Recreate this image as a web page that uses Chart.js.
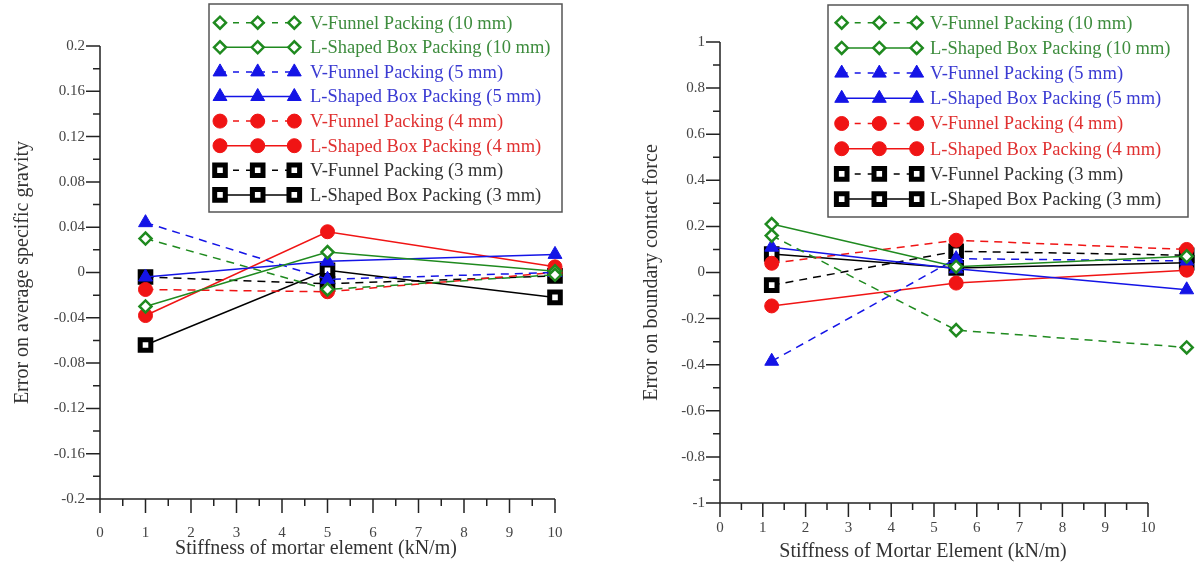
<!DOCTYPE html>
<html>
<head>
<meta charset="utf-8">
<script src="https://cdn.jsdelivr.net/npm/chart.js@4.4.1/dist/chart.umd.min.js"></script>
<style>
    body { margin: 0; background: #fff; width: 1202px; height: 569px; overflow: hidden; position: relative; }
    .panel { position: absolute; top: 0; height: 569px; }
    #left-panel { left: 0; width: 600px; }
    #right-panel { left: 600px; width: 602px; }
</style>
</head>
<body>
<div class="panel" id="left-panel"><canvas id="gravityChart" width="600" height="569"></canvas></div>
<div class="panel" id="right-panel"><canvas id="forceChart" width="602" height="569"></canvas></div>
<script>
// stiffness values used in both tests
const stiffness = [1, 5, 10];

const seriesNames = [
    "V-Funnel Packing (10 mm)",
    "L-Shaped Box Packing (10 mm)",
    "V-Funnel Packing (5 mm)",
    "L-Shaped Box Packing (5 mm)",
    "V-Funnel Packing (4 mm)",
    "L-Shaped Box Packing (4 mm)",
    "V-Funnel Packing (3 mm)",
    "L-Shaped Box Packing (3 mm)"
];

// error on average specific gravity
const gravVF10 = [0.03, -0.015, -0.002];
const gravLS10 = [-0.03, 0.018, 0.001];
const gravVF5 = [0.044, -0.006, 0.0];
const gravLS5 = [-0.004, 0.01, 0.016];
const gravVF4 = [-0.015, -0.017, 0.0];
const gravLS4 = [-0.038, 0.036, 0.005];
const gravVF3 = [-0.004, -0.01, -0.003];
const gravLS3 = [-0.064, 0.002, -0.022];

// error on boundary contact force
const forceVF10 = [0.16, -0.25, -0.325];
const forceLS10 = [0.21, 0.025, 0.07];
const forceVF5 = [-0.385, 0.06, 0.05];
const forceLS5 = [0.11, 0.016, -0.075];
const forceVF4 = [0.04, 0.14, 0.1];
const forceLS4 = [-0.145, -0.046, 0.01];
const forceVF3 = [-0.055, 0.092, 0.075];
const forceLS3 = [0.08, 0.02, 0.042];

const stiffnessTicks = [0, 1, 2, 3, 4, 5, 6, 7, 8, 9, 10];
const gravityTicks = [-0.2, -0.16, -0.12, -0.08, -0.04, 0, 0.04, 0.08, 0.12, 0.16, 0.2];
const forceTicks = [-1, -0.8, -0.6, -0.4, -0.2, 0, 0.2, 0.4, 0.6, 0.8, 1];

// styles, same order as seriesNames
const GREEN = "#1f8a1f", BLUE = "#1414e6", RED = "#f01414", BLACK = "#000000";
const seriesStyles = [
    { color: GREEN, text: "#3d8c3d", dash: [8, 6], point: "rectRot", radius: 6, fill: "#fff", bw: 2.5 },
    { color: GREEN, text: "#3d8c3d", dash: [], point: "rectRot", radius: 6, fill: "#fff", bw: 2.5 },
    { color: BLUE, text: "#3a3ad2", dash: [8, 6], point: "triangle", radius: 8, fill: BLUE, bw: 1 },
    { color: BLUE, text: "#3a3ad2", dash: [], point: "triangle", radius: 8, fill: BLUE, bw: 1 },
    { color: RED, text: "#e03030", dash: [8, 6], point: "circle", radius: 7, fill: RED, bw: 1 },
    { color: RED, text: "#e03030", dash: [], point: "circle", radius: 7, fill: RED, bw: 1 },
    { color: BLACK, text: "#333", dash: [8, 6], point: "rect", radius: 7.5, fill: "#fff", bw: 5 },
    { color: BLACK, text: "#333", dash: [], point: "rect", radius: 7.5, fill: "#fff", bw: 5 }
];

const FONT = "'Liberation Serif', 'Times New Roman', serif";

function buildDatasets(seriesList, xAxisID) {
    return seriesList.map((values, i) => {
        const s = seriesStyles[i];
        return {
            label: seriesNames[i],
            data: stiffness.map((x, j) => ({ x: x, y: values[j] })),
            xAxisID: xAxisID,
            borderColor: s.color,
            borderWidth: 1.5,
            borderDash: s.dash,
            pointStyle: s.point,
            pointRadius: s.radius,
            pointBackgroundColor: s.fill,
            pointBorderColor: s.color,
            pointBorderWidth: s.bw,
            textColor: s.text,
            clip: false,
            tension: 0
        };
    });
}

// axis lines plus major + minor tick marks outside the axes, and the x title
const tickMarks = {
    id: "tickMarks",
    afterDraw(chart, args, o) {
        const ctx = chart.ctx;
        const x = chart.scales.x;
        const y = chart.scales.y;
        const x0 = x.getPixelForValue(x.ticks[0].value);
        const x1 = x.getPixelForValue(x.ticks[x.ticks.length - 1].value);
        const y0 = y.getPixelForValue(y.ticks[0].value);
        const y1 = y.getPixelForValue(y.ticks[y.ticks.length - 1].value);
        ctx.save();
        ctx.strokeStyle = "#222";
        ctx.lineWidth = 1.5;
        ctx.beginPath();
        ctx.moveTo(x0, y1);
        ctx.lineTo(x0, y0 + 4);
        ctx.moveTo(x0 - 4, y0);
        ctx.lineTo(x1, y0);
        x.ticks.forEach((t, i) => {
            const px = x.getPixelForValue(t.value);
            ctx.moveTo(px, y0);
            ctx.lineTo(px, y0 + 14);
            if (i < x.ticks.length - 1) {
                const mx = x.getPixelForValue((t.value + x.ticks[i + 1].value) / 2);
                ctx.moveTo(mx, y0);
                ctx.lineTo(mx, y0 + 7);
            }
        });
        y.ticks.forEach((t, i) => {
            const py = y.getPixelForValue(t.value);
            ctx.moveTo(x0, py);
            ctx.lineTo(x0 - 14, py);
            if (i < y.ticks.length - 1) {
                const my = y.getPixelForValue((t.value + y.ticks[i + 1].value) / 2);
                ctx.moveTo(x0, my);
                ctx.lineTo(x0 - 7, my);
            }
        });
        ctx.stroke();

        ctx.fillStyle = "#333";
        ctx.font = "20px " + FONT;
        ctx.textAlign = "center";
        ctx.textBaseline = "middle";
        ctx.fillText(o.xTitle, o.xTitleX, o.xTitleY);
        ctx.restore();
    }
};

// boxed legend with three markers per row
const boxLegend = {
    id: "boxLegend",
    afterDraw(chart, args, o) {
        const ctx = chart.ctx;
        ctx.save();
        ctx.fillStyle = "#fff";
        ctx.fillRect(o.x, o.y, o.w, o.h);
        ctx.strokeStyle = "#555";
        ctx.lineWidth = 1.5;
        ctx.strokeRect(o.x, o.y, o.w, o.h);
        ctx.font = o.fontSize + "px " + FONT;
        ctx.textBaseline = "middle";
        chart.data.datasets.forEach((ds, i) => {
            const cy = o.rowTop + i * o.rowGap;
            ctx.strokeStyle = ds.borderColor;
            ctx.lineWidth = 1.5;
            ctx.setLineDash(ds.borderDash.length ? [6, 7] : []);
            ctx.beginPath();
            ctx.moveTo(o.marks[0], cy);
            ctx.lineTo(o.marks[2], cy);
            ctx.stroke();
            ctx.setLineDash([]);
            o.marks.forEach(mx => {
                ctx.fillStyle = ds.pointBackgroundColor;
                ctx.strokeStyle = ds.pointBorderColor;
                ctx.lineWidth = ds.pointBorderWidth;
                Chart.helpers.drawPoint(ctx, {
                    pointStyle: ds.pointStyle,
                    radius: ds.pointRadius,
                    borderWidth: ds.pointBorderWidth,
                    rotation: 0
                }, mx, cy);
            });
            ctx.fillStyle = ds.textColor;
            ctx.fillText(ds.label, o.textX, cy + 1);
        });
        ctx.restore();
    }
};

function makeChart(canvasId, cfg) {
    const scales = {
        x: {
            type: "linear",
            min: 0,
            max: 10,
            // when a pixel pitch is given, the printed axis stops at 10 inside a wider plot area
            afterDataLimits: s => {
                if (cfg.xPx) s.max = s.min + s.width / cfg.xPx;
            },
            afterBuildTicks: s => { s.ticks = stiffnessTicks.map(v => ({ value: v })); },
            afterFit: s => {
                s.height = cfg.xHeight;
                s.paddingLeft = 0;
                s.paddingRight = 0;
            },
            grid: { display: false, drawTicks: false },
            border: { display: false },
            ticks: {
                padding: cfg.xTickPad,
                color: "#444",
                font: { family: FONT, size: 15 },
                callback: v => String(v)
            }
        },
        y: {
            type: "linear",
            min: cfg.yTicks[0],
            max: cfg.yTicks[cfg.yTicks.length - 1],
            afterBuildTicks: s => { s.ticks = cfg.yTicks.map(v => ({ value: v })); },
            afterFit: s => {
                s.width = cfg.yWidth;
                s.paddingTop = 0;
                s.paddingBottom = 0;
            },
            grid: { display: false, drawTicks: false },
            border: { display: false },
            ticks: {
                padding: 15,
                color: "#444",
                font: { family: FONT, size: 15 },
                callback: v => String(v)
            },
            title: {
                display: true,
                text: cfg.yTitle,
                color: "#333",
                font: { family: FONT, size: 20 },
                padding: { top: cfg.yTitlePad, bottom: 0 }
            }
        }
    };
    if (cfg.dataAxis) {
        // markers of the right panel sit on a slightly wider, shifted scale
        scales.xd = {
            type: "linear",
            display: false,
            min: 0,
            max: 10,
            afterDataLimits: s => {
                s.min = -cfg.dataAxis.shift / cfg.dataAxis.px;
                s.max = s.min + s.width / cfg.dataAxis.px;
            }
        };
    }

    return new Chart(document.getElementById(canvasId), {
        type: "line",
        data: { datasets: buildDatasets(cfg.series, cfg.dataAxis ? "xd" : "x") },
        options: {
            responsive: false,
            animation: false,
            layout: { padding: cfg.padding },
            plugins: {
                legend: { display: false },
                tooltip: { enabled: false },
                boxLegend: cfg.legend,
                tickMarks: cfg.xLabel
            },
            scales: scales
        },
        plugins: [tickMarks, boxLegend]
    });
}

makeChart("gravityChart", {
    series: [gravVF10, gravLS10, gravVF5, gravLS5, gravVF4, gravLS4, gravVF3, gravLS3],
    yTicks: gravityTicks,
    yTitle: "Error on average specific gravity",
    padding: { top: 46, right: 45, left: 0, bottom: 0 },
    yWidth: 100,
    xHeight: 70,
    xTickPad: 25,
    yTitlePad: 11,
    xLabel: { xTitle: "Stiffness of mortar element (kN/m)", xTitleX: 316, xTitleY: 549 },
    legend: { x: 209, y: 4, w: 353, h: 208, rowTop: 22.7, rowGap: 24.6, marks: [220, 257.7, 294.3], textX: 310, fontSize: 18.5 }
});

makeChart("forceChart", {
    series: [forceVF10, forceLS10, forceVF5, forceLS5, forceVF4, forceLS4, forceVF3, forceLS3],
    yTicks: forceTicks,
    yTitle: "Error on boundary contact force",
    xPx: 42.8,
    padding: { top: 42, right: 0, left: 0, bottom: 0 },
    yWidth: 120,
    xHeight: 66,
    xTickPad: 16,
    yTitlePad: 40,
    dataAxis: { shift: 5.6, px: 46.11 },
    xLabel: { xTitle: "Stiffness of Mortar Element (kN/m)", xTitleX: 323, xTitleY: 552 },
    legend: { x: 228, y: 5, w: 360, h: 212, rowTop: 22.7, rowGap: 25.2, marks: [241.7, 279.3, 316.7], textX: 330, fontSize: 18.5 }
});
</script>
</body>
</html>
